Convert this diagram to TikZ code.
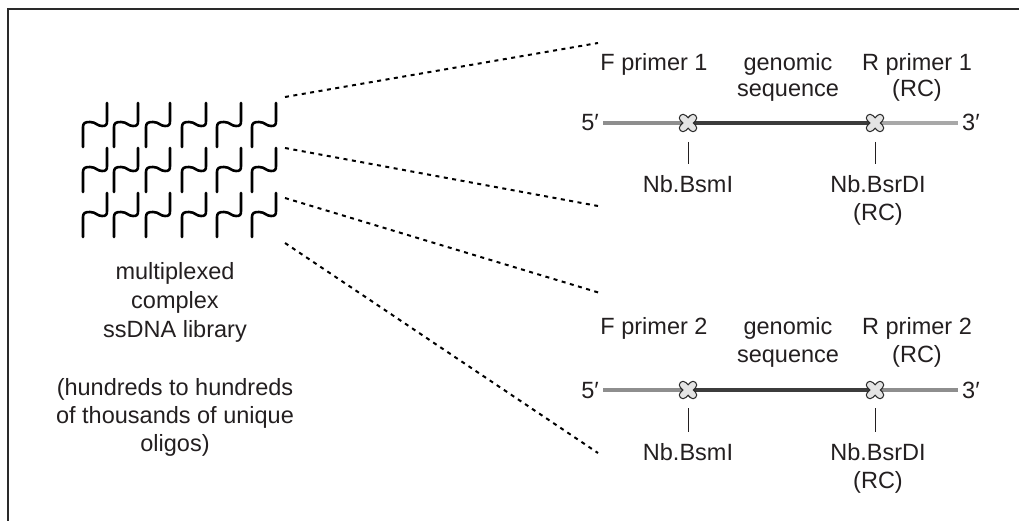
\documentclass[tikz,border=0pt]{standalone}
\usepackage{fontspec}
\setmainfont{Liberation Sans}
\definecolor{txt}{HTML}{231F20}
\definecolor{framec}{HTML}{2A2A2A}
\definecolor{graya}{HTML}{8E8E8E}
\definecolor{grayb}{HTML}{A8A8A8}
\definecolor{darkseg}{HTML}{3C3C3C}
\definecolor{xfill}{HTML}{E4E4E4}
\begin{document}
\begin{tikzpicture}[x=1pt,y=-1pt,
  lbl/.style={anchor=base, inner sep=0pt, text=txt, font=\fontsize{23.5}{28}\selectfont},
  lblE/.style={lbl, anchor=base east},
  lblW/.style={lbl, anchor=base west},
  framel/.style={draw=framec, line width=1.5pt},
  squig/.style={draw=black, line width=2.6pt, line cap=round, line join=round},
  dashconn/.style={draw=black, line width=2pt, dash pattern=on 4pt off 4.5pt},
  tickl/.style={draw=txt, line width=1pt},
  seggray/.style={draw=graya, line width=4.5pt},
  seglight/.style={draw=grayb, line width=4.5pt},
  segdark/.style={draw=darkseg, line width=4.5pt}]
\useasboundingbox (0,0) rectangle (1019,521);
% frame
\draw[framel] (8,521) -- (8,9) -- (1019,9);
% ssDNA squiggles
\foreach \yy in {103,148,193}{
  \foreach \xx in {83,114,146,182,217,252}{
    \draw[squig] (\xx,\yy+44) -- (\xx,\yy+24)
      .. controls (\xx,\yy+20) and (\xx+2,\yy+19) .. (\xx+7,\yy+19)
      .. controls (\xx+13,\yy+19) and (\xx+14,\yy+23) .. (\xx+19,\yy+23)
      .. controls (\xx+23,\yy+23) and (\xx+24,\yy+22) .. (\xx+24,\yy+18)
      -- (\xx+24,\yy);
  }
}
% library text
\node[lbl] (l1) at (175,279) {multiplexed};
\node[lbl] (l2) at (175,308) {complex};
\node[lbl] (l3) at (175,337) {ssDNA library};
\node[lbl] (l4) at (175,395) {(hundreds to hundreds};
\node[lbl] (l5) at (175,423) {of thousands of unique};
\node[lbl] (l6) at (175,451) {oligos)};
% connector coordinates
\coordinate (s1) at (285,97);
\coordinate (e1) at (598,43);
\coordinate (s2) at (285,148);
\coordinate (e2) at (598,206);
\coordinate (s3) at (285,198);
\coordinate (e3) at (600,293);
\coordinate (s4) at (285,243);
\coordinate (e4) at (598,453);
\draw[dashconn] (s1) -- (e1);
\draw[dashconn] (s2) -- (e2);
\draw[dashconn] (s3) -- (e3);
\draw[dashconn] (s4) -- (e4);
% ---------- construct 1 ----------
\coordinate (a1) at (603,123);
\coordinate (b1) at (688,123);
\coordinate (c1) at (875,123);
\coordinate (d1) at (958,123);
\draw[seggray] (a1) -- (b1);
\draw[segdark] (b1) -- (c1);
\draw[seglight] (c1) -- (d1);
\foreach \p in {b1,c1}{
  \begin{scope}[shift={(\p)}]
    \draw[framec, line width=8.5pt, line cap=round] (-5,-5) -- (5,5) (-5,5) -- (5,-5);
    \draw[xfill, line width=6pt, line cap=round] (-5,-5) -- (5,5) (-5,5) -- (5,-5);
  \end{scope}
}
\node[lblE] (f5a) at (599,131) {5′};
\node[lblW] (f3a) at (962,131) {3′};
\node[lbl] (fp1) at (654,71) {F primer 1};
\node[lbl] (gs1a) at (788,71) {genomic};
\node[lbl] (gs1b) at (788,97) {sequence};
\node[lbl] (rp1a) at (917,71) {R primer 1};
\node[lbl] (rp1b) at (917,97) {(RC)};
\coordinate (t1a) at (688,142);
\coordinate (t1b) at (688,164);
\coordinate (t2a) at (875,142);
\coordinate (t2b) at (875,164);
\draw[tickl] (t1a) -- (t1b);
\draw[tickl] (t2a) -- (t2b);
\node[lbl] (nb1) at (688,193) {Nb.BsmI};
\node[lbl] (nr1a) at (878,193) {Nb.BsrDI};
\node[lbl] (nr1b) at (878,221) {(RC)};
% ---------- construct 2 ----------
\coordinate (a2) at (603,390);
\coordinate (b2) at (688,390);
\coordinate (c2) at (875,390);
\coordinate (d2) at (958,390);
\draw[seggray] (a2) -- (b2);
\draw[segdark] (b2) -- (c2);
\draw[seggray] (c2) -- (d2);
\foreach \p in {b2,c2}{
  \begin{scope}[shift={(\p)}]
    \draw[framec, line width=8.5pt, line cap=round] (-5,-5) -- (5,5) (-5,5) -- (5,-5);
    \draw[xfill, line width=6pt, line cap=round] (-5,-5) -- (5,5) (-5,5) -- (5,-5);
  \end{scope}
}
\node[lblE] (f5b) at (599,398) {5′};
\node[lblW] (f3b) at (962,398) {3′};
\node[lbl] (fp2) at (654,334) {F primer 2};
\node[lbl] (gs2a) at (788,334) {genomic};
\node[lbl] (gs2b) at (788,362) {sequence};
\node[lbl] (rp2a) at (917,334) {R primer 2};
\node[lbl] (rp2b) at (917,362) {(RC)};
\coordinate (t3a) at (688,408);
\coordinate (t3b) at (688,432);
\coordinate (t4a) at (875,408);
\coordinate (t4b) at (875,432);
\draw[tickl] (t3a) -- (t3b);
\draw[tickl] (t4a) -- (t4b);
\node[lbl] (nb2) at (688,460) {Nb.BsmI};
\node[lbl] (nr2a) at (878,460) {Nb.BsrDI};
\node[lbl] (nr2b) at (878,488) {(RC)};
\end{tikzpicture}
\end{document}
